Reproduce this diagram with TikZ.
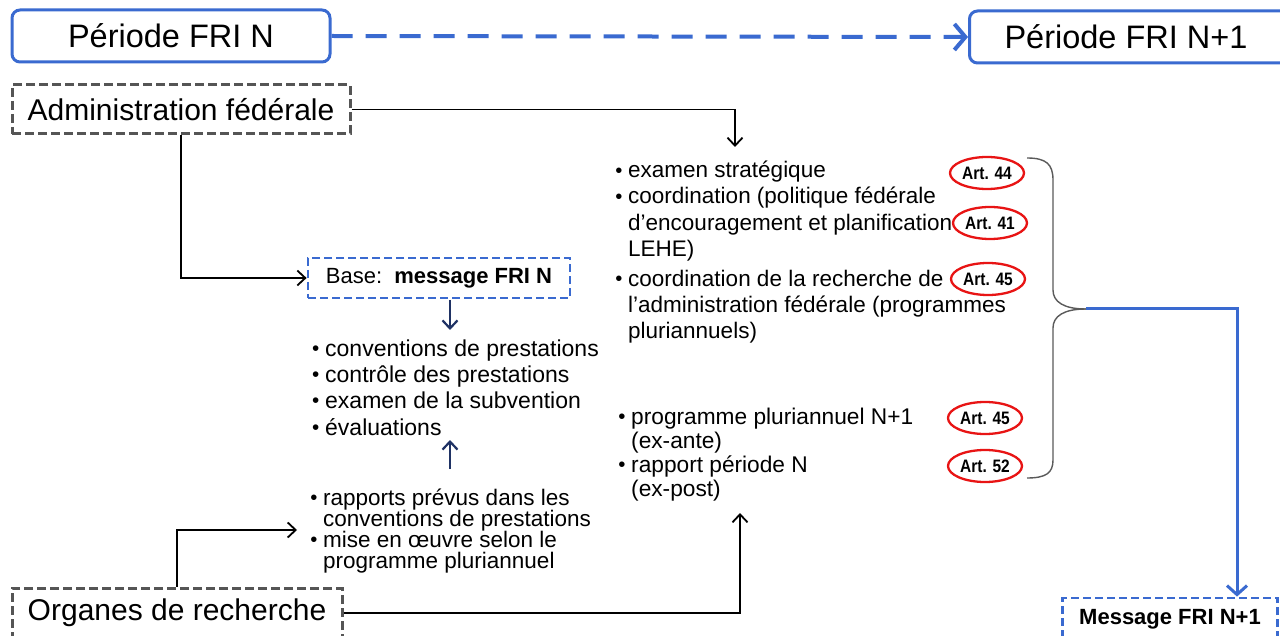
\documentclass[tikz,border=0pt]{standalone}
\usepackage{fontspec}
\setmainfont{Liberation Sans}
\usetikzlibrary{arrows.meta,shapes.geometric}
\definecolor{fblue}{RGB}{58,106,208}
\definecolor{fgrey}{RGB}{85,85,85}
\definecolor{fnavy}{RGB}{31,50,100}
\definecolor{fred}{RGB}{232,20,20}
\definecolor{bracegrey}{RGB}{90,90,90}
\newcommand{\bul}{\llap{\raisebox{0.03em}{\scalebox{0.9}{•}}\hspace{0.25em}}}
\newcommand{\artlbl}[1]{\scalebox{0.86}[1]{#1}}
\begin{document}
\begin{tikzpicture}[x=1pt,y=-1pt,
 periodbox/.style={draw=fblue, line width=3pt, rounded corners=8pt, minimum height=52pt, inner sep=0pt, font=\fontsize{32.5}{38}\selectfont},
 actorbox/.style={draw=fgrey, line width=3pt, dash pattern=on 9pt off 4pt, inner sep=0pt, font=\fontsize{30}{35}\selectfont},
 msgbox/.style={draw=fblue, line width=2.8pt, dash pattern=on 8pt off 4pt, inner sep=0pt, font=\fontsize{22}{26}\selectfont},
 conn/.style={black, line width=1.8pt, -{Straight Barb[length=8pt,width=15pt,line width=1.8pt]}},
 navyarrow/.style={fnavy, line width=2.2pt, -{Straight Barb[length=8pt,width=15pt,line width=2.2pt]}},
 bluearrow/.style={fblue, line width=3pt, -{Straight Barb[length=9pt,width=20pt,line width=3pt]}},
 item/.style={anchor=base west, inner sep=0pt, align=left},
 itemA/.style={item, font=\fontsize{23}{26}\selectfont},
 itemB/.style={item, font=\fontsize{22.5}{21}\selectfont},
 itemC/.style={item, font=\fontsize{22.5}{26.5}\selectfont},
 itemD/.style={item, font=\fontsize{22.7}{24}\selectfont},
 art/.style={draw=fred, line width=2.3pt, ellipse, minimum width=74pt, minimum height=32pt, inner sep=0pt, font=\bfseries\fontsize{18}{20}\selectfont},
 brace/.style={draw=bracegrey, line width=1.4pt}
]
\useasboundingbox (0,0) rectangle (1280,636);
\fill[white] (0,0) rectangle (1280,636);

% period boxes
\node[periodbox, minimum width=318pt] (p1) at (171,36) {Période FRI N};
\node[periodbox, minimum width=322pt, anchor=west] (p2) at (968,37) {\hspace*{-9pt}Période FRI N+1};
\draw[fblue, line width=4pt, dash pattern=on 21pt off 13pt, -{Straight Barb[length=11pt,width=26pt,line width=4pt]}] (p1.east) -- (p2.west);

% actor boxes
\node[actorbox, minimum width=338pt, minimum height=49pt] (admin) at (181,109.5) {Administration fédérale};
\node[actorbox, minimum width=330pt, minimum height=50pt] (org) at (177,613) {Organes de recherche};

% message boxes
\node[msgbox, minimum width=262pt, minimum height=40pt] (base) at (439,278) {Base:\ \ \textbf{message FRI N}};
\node[msgbox, minimum width=215pt, minimum height=42pt] (msg) at (1170,619) {\textbf{Message FRI N+1}};

% left list 1
\node[itemA] (l1a) at (325,356) {\bul conventions de prestations};
\node[itemA] (l1b) at (325,382) {\bul contrôle des prestations};
\node[itemA] (l1c) at (325,408) {\bul examen de la subvention};
\node[itemA] (l1d) at (325,435) {\bul évaluations};

% left list 2 (base = last line)
\node[itemB] (l2a) at (323,526) {\bul rapports prévus dans les\\conventions de prestations};
\node[itemB] (l2b) at (323,568) {\bul mise en œuvre selon le\\programme pluriannuel};

% right list 1
\node[itemC] (r1a) at (628,178) {\bul examen stratégique};
\node[itemC] (r1b) at (628,257) {\bul coordination (politique fédérale\\d’encouragement et planification\\LEHE)};
\node[itemC] (r1c) at (628,339) {\bul coordination de la recherche de\\l’administration fédérale (programmes\\pluriannuels)};

% right list 2
\node[itemD] (r2a) at (631,448) {\bul programme pluriannuel N+1\\(ex-ante)};
\node[itemD] (r2b) at (631,496) {\bul rapport période N\\(ex-post)};

% article ellipses
\node[art] (a44) at (987,173) {\artlbl{Art. 44}};
\node[art] (a41) at (990,223) {\artlbl{Art. 41}};
\node[art] (a45a) at (988,279) {\artlbl{Art. 45}};
\node[art] (a45b) at (985,418) {\artlbl{Art. 45}};
\node[art] (a52) at (985,466) {\artlbl{Art. 52}};

% coordinates for free connector ends
\coordinate (rtop) at (735,147);
\coordinate (rbot) at (740,513);
\coordinate (l2in) at (297,530);
\coordinate (l1top) at (450,330);
\coordinate (l1bot) at (450,440);
\coordinate (l2top) at (450,469);
\coordinate (basebot) at (450,300);
\coordinate (brtip) at (1086,309);
\coordinate (bend) at (1237,309);

% black connectors
\draw[conn] (admin.east) -| (rtop);
\draw[conn] (admin.south) |- (base.west);
\draw[conn] (org.north) |- (l2in);
\draw[conn] (org.east) -| (rbot);

% navy arrows
\draw[navyarrow] (basebot) -- (l1top);
\draw[navyarrow] (l2top) -- (l1bot);

% brace
\draw[brace] (1027,158) .. controls (1046,158) and (1053,164) .. (1053,180) -- (1053,290)
  .. controls (1053,302) and (1064,309) .. (brtip);
\draw[brace] (brtip) .. controls (1064,309) and (1053,316) .. (1053,328) -- (1053,460)
  .. controls (1053,473) and (1046,478) .. (1027,478);

% blue connector to message N+1
\draw[bluearrow] (brtip) -- (bend) -- (bend |- msg.north);
\end{tikzpicture}
\end{document}
